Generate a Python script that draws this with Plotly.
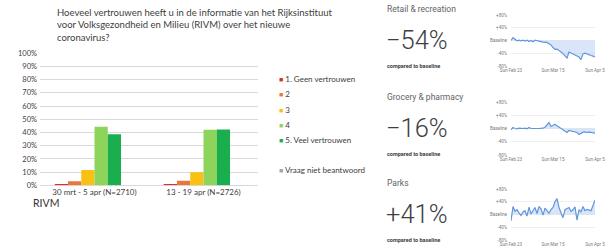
import plotly.graph_objects as go
import pandas as pd

# ---------------- data ----------------
periods = ["30 mrt - 5 apr (N=2710)", "13 - 19 apr (N=2726)"]
answers = ["1. Geen vertrouwen", "2", "3", "4", "5. Veel vertrouwen", "Vraag niet beantwoord"]
trust_period1 = [0.010, 0.030, 0.115, 0.443, 0.387, 0.000]
trust_period2 = [0.010, 0.035, 0.098, 0.420, 0.423, 0.003]
answer_colors = ["#d9302c", "#e8773a", "#f9c113", "#8fd45a", "#1aae4f", "#a5a5a5"]
y_ticks = [0, 0.1, 0.2, 0.3, 0.4, 0.5, 0.6, 0.7, 0.8, 0.9, 1.0]

dates = pd.date_range("2020-02-23", "2020-04-05", freq="D")
retail = [0, 9, 4, -1, 1, -1, 1, -2, 1, -3, 0, -4, 1, -1, -2, -3, -5, -6, -6, -10,
          -14, -22, -28, -27, -33, -36, -41, -48, -55, -36, -39, -42, -44, -47, -52,
          -60, -42, -40, -43, -45, -47, -49, -52]
grocery = [-4, 3, 0, -1, 1, 0, 0, 1, -1, 3, 0, 0, 1, 0, 0, 0, 1, 4, 10, 18, 6, 10,
           13, 8, 4, 0, -5, -9, -12, -6, -7, -8, -10, -12, -18, -14, -11, -10, -12,
           -11, -12, -13, -14]
parks = [-20, 25, 10, 15, 5, -3, 8, 12, -5, 23, 2, 13, 22, 3, 25, 18, -2, 20, 12, 4,
         15, 22, 40, 50, 22, 8, -10, 15, 18, 22, 10, 15, 24, -18, 15, 8, 25, 12, 16,
         14, 12, 28, 45]
mob_titles = ["Retail & recreation", "Grocery & pharmacy", "Parks"]
mob_values = ["\u221254%", "\u221216%", "+41%"]
mob_tickvals = [-80, -40, 0, 40, 80]
mob_ticktext = ["-80%", "-40%", "Baseline", "+40%", "+80%"]
date_tickvals = ["2020-02-23", "2020-03-15", "2020-04-05"]
date_ticktext = ["Sun Feb 23", "Sun Mar 15", "Sun Apr 5"]

# ---------------- layout helpers ----------------
W, H = 609, 249
def px(x): return x / W
def py(y): return 1 - y / H

LEFT_FONT = "Lato"
RIGHT_FONT = "Roboto"

fig = go.Figure()

for i, ans in enumerate(answers):
    fig.add_trace(go.Bar(
        x=periods, y=[trust_period1[i], trust_period2[i]], name=ans,
        marker=dict(color=answer_colors[i], line=dict(width=0)),
        showlegend=False, xaxis="x", yaxis="y"))

series = [retail, grocery, parks]
for k, s in enumerate(series):
    fig.add_trace(go.Scatter(
        x=dates, y=s, mode="lines", fill="tozeroy",
        fillcolor="rgba(120,165,235,0.28)",
        line=dict(color="#6296dc", width=1.2),
        showlegend=False, xaxis=f"x{k+2}", yaxis=f"y{k+2}"))

layout = dict(
    width=W, height=H, margin=dict(l=0, r=0, t=0, b=0, pad=0, autoexpand=False),
    paper_bgcolor="white", plot_bgcolor="white",
    barmode="group", bargap=0.27, bargroupgap=0,
    xaxis=dict(domain=[px(40), px(258)], anchor="y", showgrid=False,
               showline=False, ticks="", fixedrange=True, automargin=False,
               ticklabelstandoff=1,
               tickfont=dict(family=LEFT_FONT, size=8, color="#404040")),
    yaxis=dict(domain=[py(185.3), py(53)], anchor="x", range=[0, 1.002],
               tickvals=y_ticks, tickformat=".0%", gridcolor="#d9d9d9",
               gridwidth=1, zeroline=True, zerolinecolor="#d9d9d9",
               zerolinewidth=1, showline=False, ticks="", automargin=False,
               ticklabelstandoff=2,
               tickfont=dict(family=LEFT_FONT, size=7.5, color="#404040")),
)

mob_boxes = [(15, 66), (102, 155), (189, 240)]
for k, (top, bot) in enumerate(mob_boxes):
    layout[f"xaxis{k+2}"] = dict(
        domain=[px(511), px(595)], anchor=f"y{k+2}", type="date",
        range=[dates[0], dates[-1]], tickvals=date_tickvals,
        ticktext=date_ticktext, showgrid=False, showline=False, ticks="",
        zeroline=False, ticklabelstandoff=0, automargin=False,
        tickfont=dict(family=RIGHT_FONT, size=4.5, color="#7a7a7a"))
    layout[f"yaxis{k+2}"] = dict(
        domain=[py(bot), py(top)], anchor=f"x{k+2}", range=[-80, 80],
        tickvals=mob_tickvals, ticktext=mob_ticktext, gridcolor="#ebebeb",
        gridwidth=0.8, zeroline=False, showline=False, ticks="",
        ticklabelstandoff=3, automargin=False,
        tickfont=dict(family=RIGHT_FONT, size=4.5, color="#7a7a7a"))

annotations = []
annotations.append(dict(
    x=px(55), y=py(5), xref="paper", yref="paper", xanchor="left",
    yanchor="top", align="left", showarrow=False,
    text="Hoeveel vertrouwen heeft u in de informatie van het Rijksinstituut<br>"
         "voor Volksgezondheid en Milieu (RIVM) over het nieuwe<br>coronavirus?",
    font=dict(family=LEFT_FONT, size=9.5, color="#404040")))
annotations.append(dict(
    x=px(31), y=py(203), xref="paper", yref="paper", xanchor="left",
    yanchor="middle", showarrow=False, text="RIVM",
    font=dict(family=LEFT_FONT, size=10.5, color="#333333")))

legend_y = [79, 94.3, 109.6, 124.9, 140.2, 170]
for ans, col, ly in zip(answers, answer_colors, legend_y):
    annotations.append(dict(
        x=px(277), y=py(ly), xref="paper", yref="paper", xanchor="left",
        yanchor="middle", showarrow=False,
        text=f'<span style="color:{col}; font-size:7px">\u25A0</span> {ans}',
        font=dict(family=LEFT_FONT, size=8, color="#404040")))

title_y = [9, 97, 183]
for t, v, ty in zip(mob_titles, mob_values, title_y):
    annotations.append(dict(
        x=px(385), y=py(ty), xref="paper", yref="paper", xanchor="left",
        yanchor="middle", showarrow=False, text=t,
        font=dict(family=RIGHT_FONT, size=8.5, color="#5f6368")))
    annotations.append(dict(
        x=px(384), y=py(ty + 31), xref="paper", yref="paper", xanchor="left",
        yanchor="middle", showarrow=False, text=v,
        font=dict(family=RIGHT_FONT, size=25.5, color="#3c4043", weight=300)))
    annotations.append(dict(
        x=px(385), y=py(ty + 57), xref="paper", yref="paper", xanchor="left",
        yanchor="middle", showarrow=False, text="<b>compared to baseline</b>",
        font=dict(family=RIGHT_FONT, size=5.5, color="#3c4043")))

layout["annotations"] = annotations
fig.update_layout(**layout)
fig.write_html("out.html",
               config={"displayModeBar": False, "staticPlot": True},
               post_script="document.body.style.margin='0';")
